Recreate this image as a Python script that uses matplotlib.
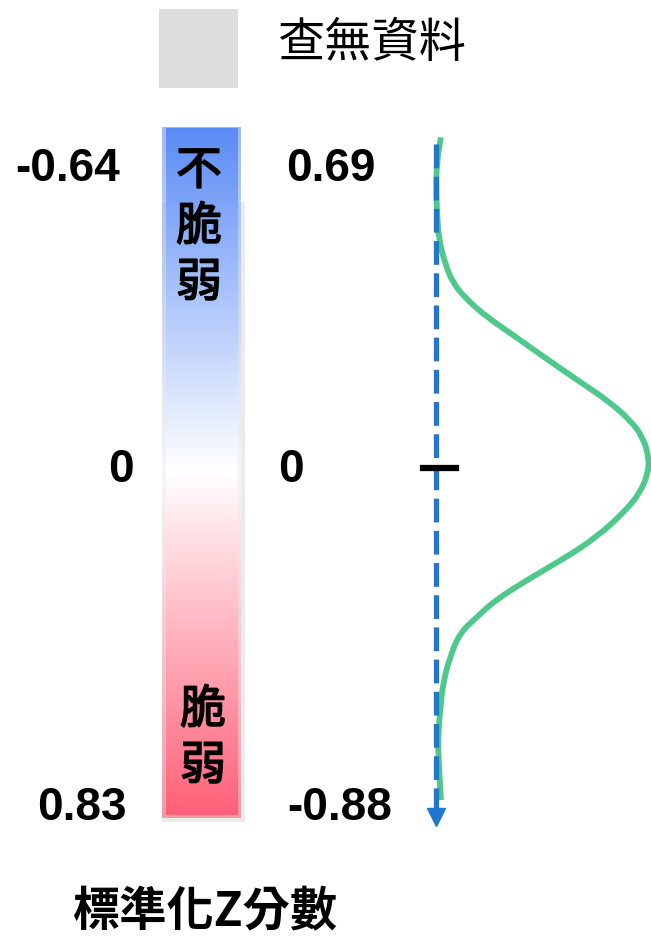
import numpy as np
import matplotlib
matplotlib.use('Agg')
import matplotlib.pyplot as plt
import matplotlib.patheffects as pe
from matplotlib.colors import LinearSegmentedColormap
from matplotlib.path import Path
from matplotlib.patches import PathPatch

# legend text
no_data_label = '查無資料'
axis_title = '標準化Z分數'
top_text = '不脆弱'
bottom_text = '脆弱'

# scale labels (left: raw, right: standardised)
left_labels = ['-0.64', '0', '0.83']
right_labels = ['0.69', '0', '-0.88']

# distribution curve
# position along the bar (0 = top, 100 = bottom), relative density (peak = 1)
curve_pos = [1.5, 4.8, 8.7, 12.5, 16.4, 19.7, 22.6, 25.0, 27.5, 30.1, 33.6,
             36.6, 39.5, 42.4, 44.9, 47.8, 50.1, 53.0, 55.9, 59.3, 62.2,
             65.3, 68.5, 70.9, 73.2, 76.7, 80.5, 84.4, 88.7, 92.6, 97.4]
curve_density = [0.023, 0.005, 0.0, 0.005, 0.014, 0.042, 0.079, 0.145, 0.238,
                 0.360, 0.519, 0.659, 0.799, 0.907, 0.967, 0.995, 0.991, 0.953,
                 0.874, 0.752, 0.612, 0.439, 0.276, 0.192, 0.112, 0.065,
                 0.033, 0.019, 0.009, 0.014, 0.023]
zero_pos = 49.3

cjk = ['Noto Sans CJK TC', 'DejaVu Sans']
num_font = ['Liberation Sans', 'DejaVu Sans']

W, H = 651, 936
fig = plt.figure(figsize=(W / 100, H / 100), dpi=100)
ax = fig.add_axes([0, 0, 1, 1])
ax.set_xlim(0, W)
ax.set_ylim(H, 0)
ax.axis('off')

# no-data swatch
ax.add_patch(plt.Rectangle((159, 9), 79, 79, color='#dddddd', lw=0))
ax.text(372, 44, no_data_label, fontsize=34, family=cjk, ha='center', va='center')

# colour bar
cmap = LinearSegmentedColormap.from_list(
    'bw', [(0.0, '#5b8cf5'), (0.5, '#ffffff'), (1.0, '#ff6078')])
grad = np.linspace(0, 1, 256).reshape(-1, 1)
ax.add_patch(plt.Rectangle((162, 202), 83, 620, color='#ebebeb', lw=0, zorder=1))
ax.imshow(grad, cmap=cmap, aspect='auto', extent=[162, 241, 818, 127],
          alpha=0.6, zorder=2)
ax.imshow(grad, cmap=cmap, aspect='auto', extent=[166, 238, 815, 128],
          zorder=3)
thick = [pe.withStroke(linewidth=1.2, foreground='black')]
ax.text(199, 227, '\n'.join(top_text), fontsize=33, family=cjk,
        ha='center', va='center', linespacing=1.2, zorder=4, path_effects=thick)
ax.text(203, 738, '\n'.join(bottom_text), fontsize=33, family=cjk,
        ha='center', va='center', linespacing=1.2, zorder=4, path_effects=thick)

# scale numbers
left_x = [68, 121, 82]
right_x = [331, 291, 340]
base_y = [181, 482, 820]
for lab, x, y in zip(left_labels, left_x, base_y):
    ax.text(x, y, lab, fontsize=33, family=num_font, weight='bold',
            ha='center', va='baseline')
for lab, x, y in zip(right_labels, right_x, base_y):
    ax.text(x, y, lab, fontsize=33, family=num_font, weight='bold',
            ha='center', va='baseline')

ax.text(205, 912, axis_title, fontsize=34, family=cjk, weight='bold',
        ha='center', va='center')

# distribution panel
axc = fig.add_axes([436 / W, 1 - 818 / H, 214 / W, 691 / H])
axc.set_xlim(0, 1)
axc.set_ylim(100, 0)
axc.axis('off')
axc.plot([0, 0], [2.5, 98.5], color='#1e78d2', lw=3.8, ls=(0, (4.5, 1.6)),
         clip_on=False)
axc.plot([0], [99.8], marker='v', ms=13, color='#1e78d2', clip_on=False)

# smooth the read points with quadratic segments through the midpoints
pts = np.column_stack([curve_density, curve_pos])
verts = [pts[0], (pts[0] + pts[1]) / 2]
codes = [Path.MOVETO, Path.LINETO]
for i in range(1, len(pts) - 1):
    verts += [pts[i], (pts[i] + pts[i + 1]) / 2]
    codes += [Path.CURVE3, Path.CURVE3]
verts.append(pts[-1])
codes.append(Path.LINETO)
axc.add_patch(PathPatch(Path(verts, codes), fill=False, edgecolor='#4fc98b',
                        lw=4.2, clip_on=False, capstyle='butt'))
axc.plot([-0.061, 0.093], [zero_pos, zero_pos], color='black', lw=4.5,
         clip_on=False)

fig.savefig('out.png', dpi=100)
